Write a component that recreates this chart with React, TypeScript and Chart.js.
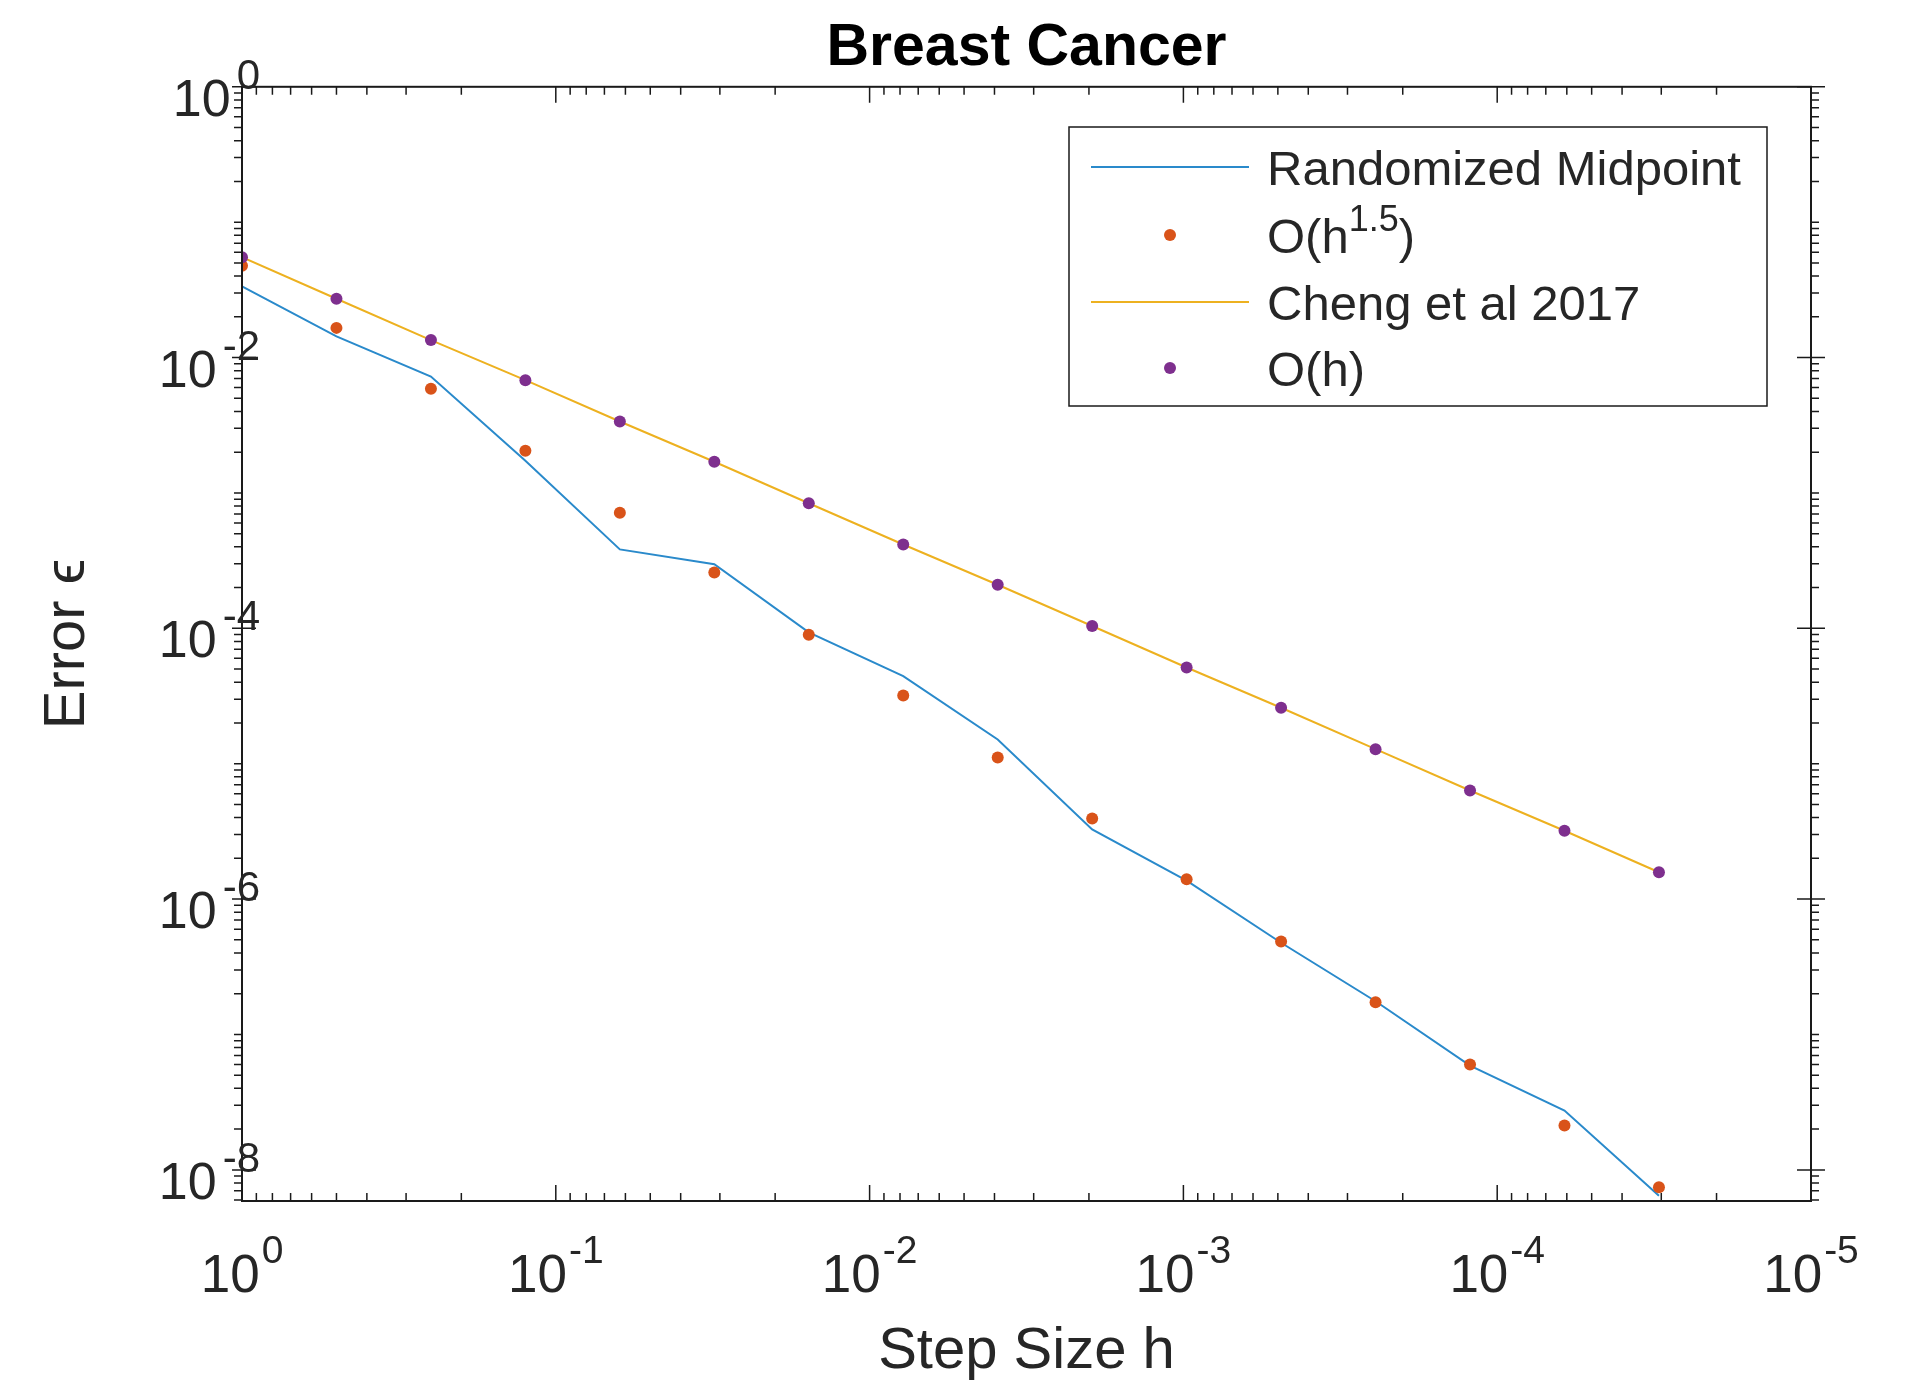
import React, { useEffect, useRef } from 'react';
import { Chart, registerables } from 'chart.js';

Chart.register(...registerables);

const FONT = '"Liberation Sans", Arial, Helvetica, sans-serif';

// ---- data ----
const stepSizes = [
  1, 0.5, 0.25, 0.125, 0.0625, 0.03125, 0.015625, 0.0078125, 0.00390625,
  0.001953125, 0.0009765625, 0.00048828125, 0.000244140625, 0.0001220703125,
  0.00006103515625, 0.000030517578125,
];
const randomizedMidpoint = [
  0.0335, 0.01433, 0.00724, 0.00173, 3.83e-4, 2.98e-4, 9.35e-5, 4.44e-5, 1.51e-5,
  3.27e-6, 1.37e-6, 4.76e-7, 1.76e-7, 5.89e-8, 2.74e-8, 6.43e-9,
];
const orderH15 = [
  0.0476, 0.01657, 0.00589, 0.00205, 7.13e-4, 2.58e-4, 8.98e-5, 3.19e-5, 1.11e-5,
  3.94e-6, 1.4e-6, 4.86e-7, 1.73e-7, 6.01e-8, 2.13e-8, 7.43e-9,
];
const cheng2017 = [
  0.0551, 0.0272, 0.01346, 0.00681, 0.00337, 0.0017, 8.39e-4, 4.16e-4, 2.1e-4,
  1.04e-4, 5.14e-5, 2.59e-5, 1.28e-5, 6.34e-6, 3.2e-6, 1.58e-6,
];
const orderH = [
  0.0551, 0.0272, 0.01346, 0.00681, 0.00337, 0.0017, 8.39e-4, 4.16e-4, 2.1e-4,
  1.04e-4, 5.14e-5, 2.59e-5, 1.28e-5, 6.34e-6, 3.2e-6, 1.58e-6,
];
const seriesNames = ['Randomized Midpoint', 'O(h^{1.5})', 'Cheng et al 2017', 'O(h)'];
const seriesColors = ['#2a8acb', '#d95319', '#edb120', '#7e2f8e'];
const xTickExponents = [0, -1, -2, -3, -4, -5];
const yTickExponents = [0, -2, -4, -6, -8];
const titleText = 'Breast Cancer';
const xAxisTitle = 'Step Size h';
const yAxisTitle = 'Error \u03F5';

const toPoints = (ys: number[]) => ys.map((y, i) => ({ x: stepSizes[i], y }));

const TEXT = '#262626';

function drawRich(ctx: CanvasRenderingContext2D, x: number, y: number, label: string, size: number, supSize: number, supDy: number) {
  const m = label.match(/^(.*)\^\{(.*)\}(.*)$/);
  const parts = m ? [[m[1], 0], [m[2], 1], [m[3], 0]] : [[label, 0]];
  let cx = x;
  for (const [t, sup] of parts as [string, number][]) {
    ctx.font = `${sup ? supSize : size}px ${FONT}`;
    ctx.fillText(t, cx, sup ? y + supDy : y);
    cx += ctx.measureText(t).width;
  }
}

const matlabPlugin = {
  id: 'matlabAxes',
  afterDatasetsDraw(chart: any) {
    const ctx: CanvasRenderingContext2D = chart.ctx;
    const { left, right, top, bottom } = chart.chartArea;
    const xs = chart.scales.x;
    const ys = chart.scales.y;
    ctx.save();
    ctx.strokeStyle = '#1a1a1a';
    ctx.fillStyle = TEXT;

    // frame
    ctx.lineWidth = 2;
    ctx.strokeRect(left, top, right - left, bottom - top);

    // x ticks (inward, top and bottom)
    ctx.lineWidth = 1.5;
    ctx.beginPath();
    for (let d = -5; d <= 0; d++) {
      const px = xs.getPixelForValue(Math.pow(10, d));
      ctx.moveTo(px, bottom); ctx.lineTo(px, bottom - 16);
      ctx.moveTo(px, top); ctx.lineTo(px, top + 16);
      if (d < 0) {
        for (let n = 2; n <= 9; n++) {
          const p = xs.getPixelForValue(n * Math.pow(10, d));
          ctx.moveTo(p, bottom); ctx.lineTo(p, bottom - 8);
          ctx.moveTo(p, top); ctx.lineTo(p, top + 8);
        }
      }
    }
    // y ticks (outward minor, major crossing)
    const yMin = ys.min, yMax = ys.max;
    for (let d = -9; d <= 0; d++) {
      for (let n = 1; n <= 9; n++) {
        const v = n * Math.pow(10, d);
        if (v < yMin * 0.999 || v > yMax * 1.001) continue;
        const p = ys.getPixelForValue(v);
        const major = n === 1 && d % 2 === 0;
        if (major) {
          ctx.moveTo(left - 10, p); ctx.lineTo(left + 14, p);
          ctx.moveTo(right - 14, p); ctx.lineTo(right + 14, p);
        } else {
          ctx.moveTo(left - 8, p); ctx.lineTo(left, p);
          ctx.moveTo(right, p); ctx.lineTo(right + 8, p);
        }
      }
    }
    ctx.stroke();

    // x tick labels
    ctx.textBaseline = 'alphabetic';
    ctx.textAlign = 'left';
    for (const e of xTickExponents) {
      const px = xs.getPixelForValue(Math.pow(10, e));
      const ex = String(e);
      ctx.font = `53px ${FONT}`;
      const wb = ctx.measureText('10').width;
      ctx.font = `39px ${FONT}`;
      const we = ctx.measureText(ex).width;
      const start = px - (wb + 2 + we) / 2;
      ctx.font = `53px ${FONT}`;
      ctx.fillText('10', start, bottom + 91);
      ctx.font = `39px ${FONT}`;
      ctx.fillText(ex, start + wb + 2, bottom + 62);
    }
    // y tick labels
    for (const e of yTickExponents) {
      const py = ys.getPixelForValue(Math.pow(10, e));
      const ex = String(e);
      ctx.font = `52px ${FONT}`;
      const wb = ctx.measureText('10').width;
      ctx.font = `42px ${FONT}`;
      const we = ctx.measureText(ex).width;
      const start = left + 18 - (wb + 6 + we);
      ctx.font = `52px ${FONT}`;
      ctx.fillText('10', start, py + 29);
      ctx.font = `42px ${FONT}`;
      ctx.fillText(ex, start + wb + 6, py + 2);
    }

    // legend
    const lx = 1069, ly = 127, lw = 698, lh = 279;
    ctx.fillStyle = '#ffffff';
    ctx.fillRect(lx, ly, lw, lh);
    ctx.lineWidth = 1.5;
    ctx.strokeStyle = '#1a1a1a';
    ctx.strokeRect(lx, ly, lw, lh);
    const rows = [167, 235, 302, 368];
    seriesNames.forEach((name, i) => {
      const ry = rows[i];
      if (i === 0 || i === 2) {
        ctx.strokeStyle = seriesColors[i];
        ctx.lineWidth = 2;
        ctx.beginPath();
        ctx.moveTo(1091, ry); ctx.lineTo(1249, ry);
        ctx.stroke();
      } else {
        ctx.fillStyle = seriesColors[i];
        ctx.beginPath();
        ctx.arc(1170, ry, 6, 0, Math.PI * 2);
        ctx.fill();
      }
      ctx.fillStyle = TEXT;
      drawRich(ctx, 1267, ry + 18, name, 49, 36, -22);
    });
    ctx.restore();
  },
};

export default function App() {
  const ref = useRef<HTMLCanvasElement | null>(null);
  useEffect(() => {
    if (!ref.current) return;
    const chart = new Chart(ref.current, {
      type: 'scatter',
      data: {
        datasets: [
          {
            label: seriesNames[0], data: toPoints(randomizedMidpoint), showLine: true,
            borderColor: seriesColors[0], borderWidth: 2, pointRadius: 0, order: 3,
          },
          {
            label: seriesNames[1], data: toPoints(orderH15), showLine: false,
            backgroundColor: seriesColors[1], borderColor: seriesColors[1], pointRadius: 6, borderWidth: 0, order: 2,
          },
          {
            label: seriesNames[2], data: toPoints(cheng2017), showLine: true,
            borderColor: seriesColors[2], borderWidth: 2, pointRadius: 0, order: 1,
          },
          {
            label: seriesNames[3], data: toPoints(orderH), showLine: false,
            backgroundColor: seriesColors[3], borderColor: seriesColors[3], pointRadius: 6, borderWidth: 0, order: 0,
          },
        ],
      },
      options: {
        responsive: false,
        animation: false,
        devicePixelRatio: 1,
        layout: { padding: { left: 0, right: 100, top: 0, bottom: 0 } },
        plugins: {
          legend: { display: false },
          tooltip: { enabled: false },
          title: {
            display: true, text: titleText, fullSize: false, color: '#000',
            font: { family: FONT, size: 59, weight: 'bold' },
            padding: { top: 13, bottom: 3 },
          },
        },
        scales: {
          x: {
            type: 'logarithmic', reverse: true, min: 1e-5, max: 1,
            grid: { display: false }, border: { display: false },
            ticks: { display: false },
            title: { display: true, text: xAxisTitle, color: TEXT, font: { family: FONT, size: 58, lineHeight: 1.0 }, padding: { top: 0, bottom: 0 } },
            afterFit: (s: any) => { s.height = 180; },
          },
          y: {
            type: 'logarithmic', min: 5.89e-9, max: 1,
            grid: { display: false }, border: { display: false },
            ticks: { display: false },
            title: { display: true, text: yAxisTitle, color: TEXT, font: { family: FONT, size: 58 }, padding: { top: 33, bottom: 0 } },
            afterFit: (s: any) => { s.width = 242; },
          },
        },
      } as any,
      plugins: [matlabPlugin],
    });
    return () => chart.destroy();
  }, []);
  return (
    <div style={{ position: 'fixed', left: 0, top: 0, width: 1911, height: 1381, background: '#fff' }}>
      <canvas ref={ref} width={1911} height={1381} style={{ display: 'block' }} />
    </div>
  );
}
